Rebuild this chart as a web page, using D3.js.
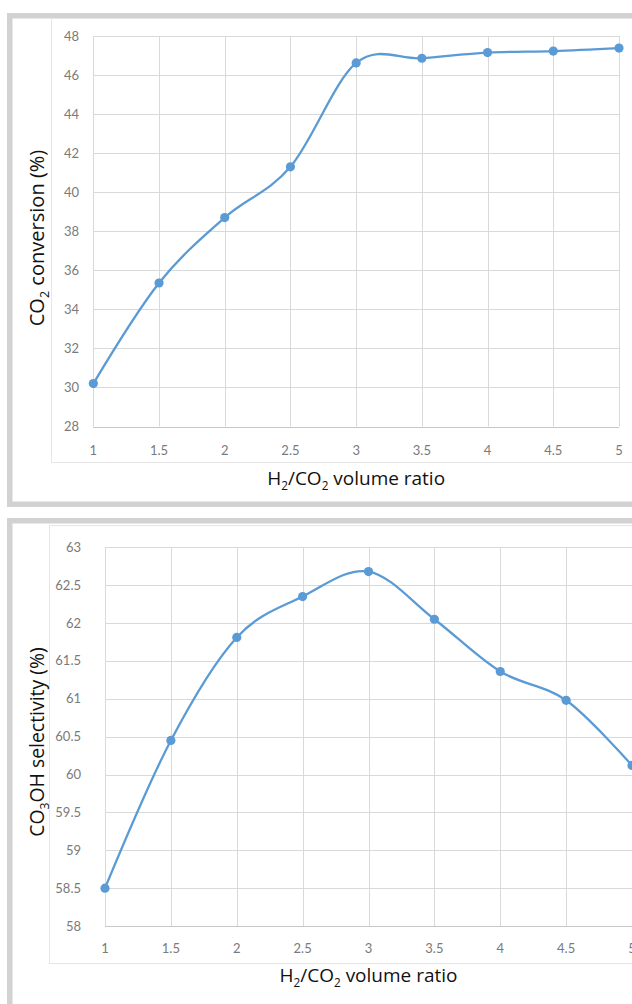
<!DOCTYPE html>
<html><head><meta charset="utf-8">
<script src="https://cdn.jsdelivr.net/npm/d3@7"></script>
<style>html,body{margin:0;padding:0;background:#fff;}svg{display:block;}</style>
</head><body>
<script>
// ---- data ----
const ratios = [1, 1.5, 2, 2.5, 3, 3.5, 4, 4.5, 5];
const conversion = [30.2, 35.35, 38.7, 41.3, 46.62, 46.86, 47.15, 47.23, 47.38];
const selectivity = [58.5, 60.45, 61.81, 62.35, 62.68, 62.05, 61.36, 60.98, 60.12];
const xTickLabels = ["1", "1.5", "2", "2.5", "3", "3.5", "4", "4.5", "5"];
const yTicksTop = [28, 30, 32, 34, 36, 38, 40, 42, 44, 46, 48];
const yTicksBottom = [58, 58.5, 59, 59.5, 60, 60.5, 61, 61.5, 62, 62.5, 63];

const W = 632, H = 1004;
const svg = d3.select("body").append("svg").attr("width", W).attr("height", H);
const BLUE = "#5b9bd5";

function fitWidth(sel, target) {
  const w = sel.node().getBBox().width;
  const fs = parseFloat(sel.attr("font-size"));
  sel.attr("font-size", fs * target / w);
}

function panel(cfg) {
  const g = svg.append("g");
  // outer grey frame
  g.append("rect").attr("x", cfg.frame[0]).attr("y", cfg.frame[1])
    .attr("width", cfg.frame[2]).attr("height", cfg.frame[3])
    .attr("fill", "none").attr("stroke", "#d2d2d2").attr("stroke-width", 5.5);
  // faint chart-area box
  g.append("rect").attr("x", cfg.box[0]).attr("y", cfg.box[1])
    .attr("width", cfg.box[2]).attr("height", cfg.box[3])
    .attr("fill", "none").attr("stroke", "#e6e6e6").attr("stroke-width", 1);

  const x = d3.scaleLinear().domain([1, 5]).range([cfg.left, cfg.right]);
  const y = d3.scaleLinear().domain(cfg.ydom).range([cfg.bottom, cfg.top]);

  // grid
  g.append("g").selectAll("line").data(cfg.yticks).join("line")
    .attr("x1", cfg.left).attr("x2", cfg.right)
    .attr("y1", d => Math.round(y(d)) + 0.5).attr("y2", d => Math.round(y(d)) + 0.5)
    .attr("stroke", "#d9d9d9").attr("stroke-width", 1);
  g.append("g").selectAll("line").data(ratios).join("line")
    .attr("x1", d => Math.round(x(d)) + 0.5).attr("x2", d => Math.round(x(d)) + 0.5)
    .attr("y1", cfg.top).attr("y2", cfg.bottom)
    .attr("stroke", "#d9d9d9").attr("stroke-width", 1);
  // bottom axis line
  g.append("line").attr("x1", cfg.left).attr("x2", cfg.right)
    .attr("y1", Math.round(cfg.bottom) + 0.5).attr("y2", Math.round(cfg.bottom) + 0.5)
    .attr("stroke", "#c8c8c8");

  // tick labels
  g.append("g").selectAll("text").data(cfg.yticks).join("text")
    .attr("x", cfg.ylabX).attr("y", d => y(d)).attr("dy", "0.35em")
    .attr("text-anchor", "end").attr("font-family", "Lato, 'Open Sans', sans-serif")
    .attr("font-size", 13).attr("fill", "#7a7a7a").text(d => d3.format("")(d));
  g.append("g").selectAll("text").data(ratios).join("text")
    .attr("x", d => x(d)).attr("y", cfg.xlabY).attr("dy", "0.35em")
    .attr("text-anchor", "middle").attr("font-family", "Lato, 'Open Sans', sans-serif")
    .attr("font-size", 13).attr("fill", "#7a7a7a").text((d, i) => xTickLabels[i]);

  // line + markers
  const pts = ratios.map((r, i) => [x(r), y(cfg.values[i])]);
  g.append("path").attr("d", d3.line().curve(d3.curveCardinal.tension(0))(pts))
    .attr("fill", "none").attr("stroke", BLUE).attr("stroke-width", 2.3);
  g.append("g").selectAll("circle").data(pts).join("circle")
    .attr("cx", d => d[0]).attr("cy", d => d[1]).attr("r", 4.6).attr("fill", BLUE);

  // x title
  const xt = g.append("text").attr("x", (cfg.left + cfg.right) / 2).attr("y", cfg.xtitleY)
    .attr("text-anchor", "middle").attr("font-family", "'Open Sans', sans-serif")
    .attr("font-size", 16).attr("fill", "#111");
  xt.append("tspan").text("H");
  xt.append("tspan").attr("font-size", "0.62em").attr("dy", "0.4em").text("2");
  xt.append("tspan").attr("dy", "-0.25em").text("/CO");
  xt.append("tspan").attr("font-size", "0.62em").attr("dy", "0.4em").text("2");
  xt.append("tspan").attr("dy", "-0.25em").text(" volume ratio");
  fitWidth(xt, 178);

  // y title
  const yt = g.append("text").attr("transform", `translate(${cfg.ytitleX},${cfg.ytitleY}) rotate(-90)`)
    .attr("text-anchor", "middle").attr("font-family", "'Open Sans', sans-serif")
    .attr("font-size", 16).attr("fill", "#111");
  yt.append("tspan").text("CO");
  yt.append("tspan").attr("font-size", "0.62em").attr("dy", "0.4em").text(cfg.sub);
  yt.append("tspan").attr("dy", "-0.25em").text(cfg.yrest);
  fitWidth(yt, cfg.ytitleW);
}

panel({
  frame: [9.75, 15.75, 700, 488.5],
  box: [51.5, 18.5, 640, 444],
  left: 93.3, right: 619, top: 36, bottom: 426.5,
  ydom: [28, 48], yticks: yTicksTop, values: conversion,
  ylabX: 79, xlabY: 450, xtitleY: 485,
  ytitleX: 44, ytitleY: 238, ytitleW: 177,
  sub: "2", yrest: " conversion (%)"
});

panel({
  frame: [9.75, 520.75, 700, 600],
  box: [49.5, 525.5, 640, 438],
  left: 105, right: 632, top: 547.3, bottom: 926,
  ydom: [58, 63], yticks: yTicksBottom, values: selectivity,
  ylabX: 81, xlabY: 948, xtitleY: 982,
  ytitleX: 44, ytitleY: 742, ytitleW: 190,
  sub: "3", yrest: "OH selectivity (%)"
});
</script>
</body></html>
